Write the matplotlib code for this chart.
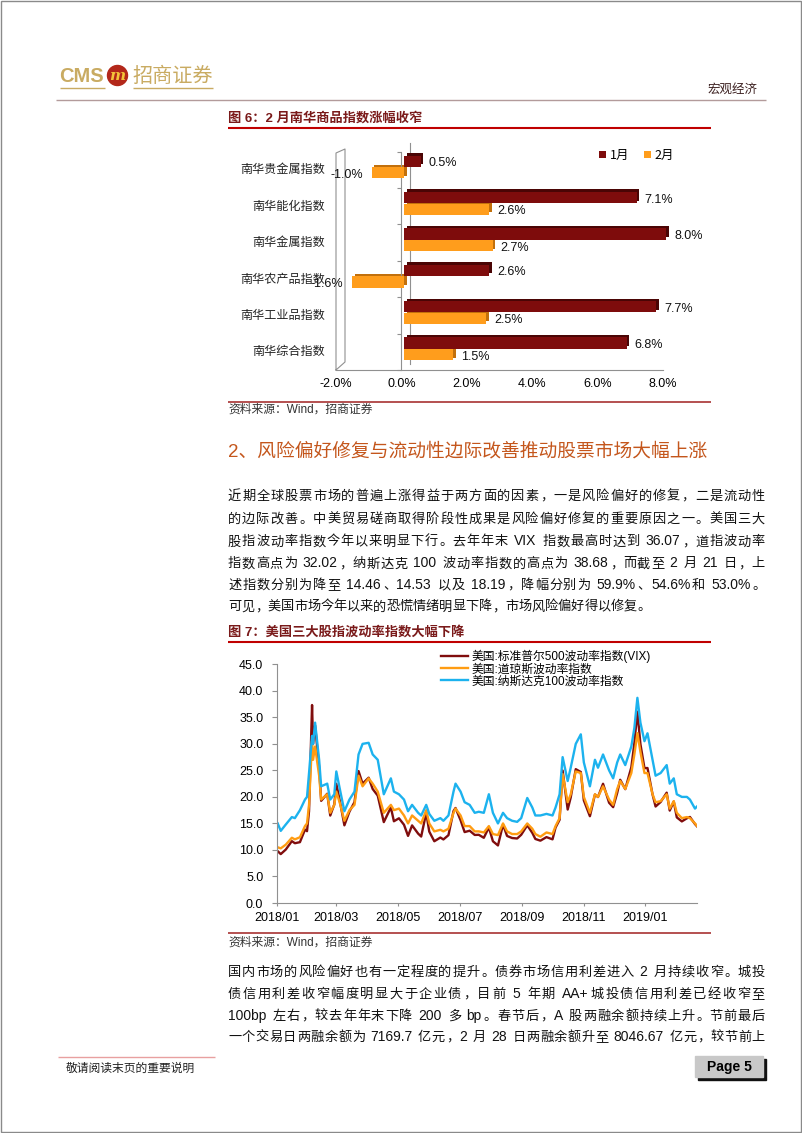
import re
import matplotlib
matplotlib.use('Agg')
import matplotlib.pyplot as plt
import matplotlib.dates as mdates
from matplotlib.patches import Rectangle, Circle
from matplotlib.transforms import ScaledTranslation
import pandas as pd

W, H = 802, 1133
CJK = 'Noto Sans CJK SC'
MIX = ['Liberation Sans', CJK]
GOLD = '#c9ab62'

# ---- 图6 data ----
categories = ['南华贵金属指数', '南华能化指数', '南华金属指数',
              '南华农产品指数', '南华工业品指数', '南华综合指数']
jan = [0.5, 7.1, 8.0, 2.6, 7.7, 6.8]
feb = [-1.0, 2.6, 2.7, -1.6, 2.5, 1.5]
bar_ticks = [-2, 0, 2, 4, 6, 8]

# ---- 图7 data ----
dates = ['2018-01-02', '2018-01-05', '2018-01-10', '2018-01-16', '2018-01-19', '2018-01-24',
         '2018-01-29', '2018-01-31', '2018-02-02', '2018-02-05', '2018-02-06', '2018-02-08',
         '2018-02-12', '2018-02-14', '2018-02-20', '2018-02-23', '2018-02-27', '2018-03-01',
         '2018-03-05', '2018-03-09', '2018-03-14', '2018-03-19', '2018-03-23', '2018-03-27',
         '2018-04-02', '2018-04-06', '2018-04-11', '2018-04-17', '2018-04-24', '2018-04-27',
         '2018-05-02', '2018-05-07', '2018-05-11', '2018-05-15', '2018-05-21', '2018-05-24',
         '2018-05-29', '2018-06-01', '2018-06-06', '2018-06-12', '2018-06-15', '2018-06-20',
         '2018-06-25', '2018-06-27', '2018-07-02', '2018-07-06', '2018-07-11', '2018-07-16',
         '2018-07-20', '2018-07-25', '2018-07-30', '2018-08-03', '2018-08-08', '2018-08-13',
         '2018-08-17', '2018-08-22', '2018-08-27', '2018-08-31', '2018-09-06', '2018-09-11',
         '2018-09-14', '2018-09-19', '2018-09-25', '2018-10-01', '2018-10-04', '2018-10-08',
         '2018-10-11', '2018-10-16', '2018-10-19', '2018-10-24', '2018-10-29', '2018-11-01',
         '2018-11-07', '2018-11-12', '2018-11-15', '2018-11-20', '2018-11-26', '2018-11-30',
         '2018-12-04', '2018-12-07', '2018-12-12', '2018-12-18', '2018-12-21', '2018-12-24',
         '2018-12-27', '2018-12-31', '2019-01-03', '2019-01-08', '2019-01-11', '2019-01-16',
         '2019-01-22', '2019-01-25', '2019-01-29', '2019-02-01', '2019-02-06', '2019-02-11',
         '2019-02-14', '2019-02-19', '2019-02-21']
vix = [9.77, 9.22, 10.08, 11.66, 11.27, 11.47,
       13.84, 13.54, 17.31, 37.32, 29.98, 33.46,
       25.61, 19.26, 20.60, 16.49, 18.59, 22.47,
       18.73, 14.64, 17.23, 19.02, 24.87, 22.50,
       23.62, 21.49, 20.24, 15.25, 18.02, 15.41,
       15.97, 14.75, 12.65, 14.63, 13.08, 12.53,
       17.02, 13.46, 11.64, 12.34, 11.98, 12.79,
       17.33, 17.91, 15.60, 13.37, 13.63, 12.83,
       12.86, 12.29, 14.26, 11.64, 10.85, 14.78,
       12.64, 12.25, 12.16, 12.86, 14.65, 13.22,
       12.07, 11.75, 12.42, 12.00, 14.22, 15.69,
       24.98, 17.62, 19.89, 25.23, 24.70, 19.34,
       16.36, 20.45, 19.98, 22.48, 18.90, 18.07,
       20.74, 23.23, 21.46, 25.58, 30.11, 36.07,
       29.96, 25.42, 25.45, 20.47, 18.19, 19.04,
       20.80, 17.42, 19.13, 16.14, 15.38, 15.97,
       16.22, 14.88, 14.46]
vxd = [10.5, 10.3, 11.0, 12.3, 12.0, 12.4,
       14.5, 15.0, 18.5, 30.5, 27.0, 29.5,
       24.0, 19.5, 20.5, 17.0, 18.5, 21.0,
       18.5, 15.5, 17.5, 18.5, 24.0, 22.0,
       23.5, 22.5, 21.0, 17.0, 18.5, 17.5,
       17.8, 16.5, 15.0, 16.5, 15.5, 15.0,
       17.5, 15.0, 13.5, 13.8, 13.5, 14.0,
       17.0, 17.8, 16.5, 14.5, 14.5, 13.5,
       13.5, 13.3, 14.5, 13.0, 12.8, 15.0,
       13.5, 13.0, 13.0, 13.5, 15.0, 14.0,
       13.0, 12.5, 13.3, 13.0, 14.5, 16.0,
       24.3, 19.0, 20.5, 24.8, 24.5, 20.0,
       17.0, 20.5, 20.0, 22.0, 19.5, 18.5,
       21.5, 23.0, 21.5, 24.5, 28.0, 32.02,
       28.5, 24.5, 24.5, 20.5, 19.0, 19.2,
       20.5, 17.8, 19.2, 17.0, 16.0, 16.2,
       16.0, 15.0, 14.53]
vxn = [15.0, 13.6, 14.8, 16.2, 16.0, 17.5,
       19.5, 20.0, 24.5, 31.5, 30.0, 34.0,
       27.0, 22.0, 22.5, 19.5, 20.5, 24.8,
       21.0, 17.3, 19.5, 21.0, 28.0, 30.0,
       30.2, 28.0, 27.0, 20.5, 23.5, 21.0,
       20.5, 19.5, 17.3, 18.5, 17.0, 16.5,
       18.5, 16.8, 15.5, 16.0, 15.5, 16.5,
       21.0, 22.5, 21.0, 19.0, 18.5, 17.0,
       17.2, 17.0, 20.5, 17.0, 15.0, 17.0,
       16.0, 15.5, 15.3, 16.0, 19.8, 18.0,
       16.5, 16.5, 16.8, 16.5, 18.0, 20.5,
       27.5, 23.0, 25.5, 30.0, 31.8, 26.5,
       22.0, 27.0, 25.5, 28.0, 25.0, 23.5,
       26.5, 28.0, 26.0, 29.5, 33.0, 38.68,
       34.0, 30.5, 32.0, 27.0, 24.0, 24.5,
       26.0, 22.5, 23.5, 20.5, 20.0, 20.0,
       19.5, 17.8, 18.19]
series_names = ['美国:标准普尔500波动率指数(VIX)', '美国:道琼斯波动率指数', '美国:纳斯达克100波动率指数']
series_colors = ['#800d0d', '#ff9c12', '#1cb2ee']

para1 = ['近期全球股票市场的普遍上涨得益于两方面的因素，一是风险偏好的修复，二是流动性',
         '的边际改善。中美贸易磋商取得阶段性成果是风险偏好修复的重要原因之一。美国三大',
         '股指波动率指数今年以来明显下行。去年年末 VIX 指数最高时达到 36.07，道指波动率',
         '指数高点为 32.02，纳斯达克 100 波动率指数的高点为 38.68，而截至 2 月 21 日，上',
         '述指数分别为降至 14.46、14.53 以及 18.19，降幅分别为 59.9%、54.6%和 53.0%。',
         '可见，美国市场今年以来的恐慌情绪明显下降，市场风险偏好得以修复。']
para2 = ['国内市场的风险偏好也有一定程度的提升。债券市场信用利差进入 2 月持续收窄。城投',
         '债信用利差收窄幅度明显大于企业债，目前 5 年期 AA+城投债信用利差已经收窄至',
         '100bp 左右，较去年年末下降 200 多 bp。春节后，A 股两融余额持续上升。节前最后',
         '一个交易日两融余额为 7169.7 亿元，2 月 28 日两融余额升至 8046.67 亿元，较节前上']

fig = plt.figure(figsize=(W / 100, H / 100), dpi=100)
page = fig.add_axes([0, 0, 1, 1])
page.set_xlim(0, W)
page.set_ylim(H, 0)
page.axis('off')


def box(l, t, r, b):
    return fig.add_axes([l / W, 1 - b / H, (r - l) / W, (b - t) / H])


def hline(x0, x1, y, color, lw=1.0):
    page.plot([x0, x1], [y, y], color=color, lw=lw, solid_capstyle='butt')


renderer = fig.canvas.get_renderer()


def justify(line, y, x0=228, x1=765, size=9.5, last=False):
    em = size * 100 / 72
    items = []
    for tok in re.findall(r'[A-Za-z0-9.%+()]+| |.', line):
        if tok == ' ':
            items.append((None, 4.0, None))
        elif ord(tok[0]) < 128:
            t = page.text(x0, y + 0.37 * em, tok, fontsize=size + 0.5, family='Liberation Sans',
                          va='baseline', ha='left', color='#111111')
            items.append((t, t.get_window_extent(renderer).width + 0.5, 'l'))
        else:
            punct = tok in '，。、：；'
            t = page.text(x0, y + 0.37 * em, tok, fontsize=size, family=CJK, va='baseline',
                          ha='left' if punct else 'center', color='#111111')
            items.append((t, em, 'p' if punct else 'c'))
    total = sum(w for _, w, _ in items)
    gap = 0 if last else (x1 - x0 - total) / (len(items) - 1)
    x = x0
    for t, w, kind in items:
        if t is not None:
            t.set_x(x + w / 2 if kind == 'c' else x + (0.05 * em if kind == 'p' else 0))
        x += w + gap


# ---- page furniture ----
page.add_patch(Rectangle((0.5, 0.5), W - 1.5, H - 1.5, fill=False, edgecolor='#8a8a8a', lw=1))
page.text(59, 76, 'CMS', fontsize=14.5, weight='bold', family='Liberation Sans', color=GOLD,
          va='center', ha='left')
hline(60, 105, 87.5, GOLD, 1)
page.add_patch(Circle((117.5, 75.5), 10, color='#b3281a'))
page.text(117.5, 75.5, 'm', fontsize=11, weight='bold', style='italic', color='#f3c53a',
          ha='center', va='center', family='DejaVu Serif')
page.text(132, 76, '招商证券', fontsize=14.5, family=CJK, color=GOLD, va='center')
hline(133, 213, 87.5, GOLD, 1)
page.text(758, 89, '宏观经济', fontsize=9, family=CJK, color='#3b1f1f', ha='right', va='center')
hline(56, 766, 100.3, '#b39b9b', 1)

page.text(228, 118, '图 6：2 月南华商品指数涨幅收窄', fontsize=9.5, weight='bold', family=MIX,
          color='#7a1a1a', va='center')
hline(228, 711, 127.5, '#c00000', 1.5)
hline(228, 711, 401.5, '#a83232', 1.2)
page.text(228, 410, '资料来源：Wind，招商证券', fontsize=8.5, family=MIX, color='#333333', va='center')

page.text(228, 452, '2、风险偏好修复与流动性边际改善推动股票市场大幅上涨', fontsize=13.5,
          family=MIX, color='#c4561c', va='center')
for i, (line, y) in enumerate(zip(para1, [495, 518, 540.5, 562.5, 584, 605.5])):
    justify(line, y, last=(i == len(para1) - 1))

page.text(228, 632.3, '图 7：美国三大股指波动率指数大幅下降', fontsize=9.5, weight='bold', family=MIX,
          color='#7a1a1a', va='center')
hline(228, 711, 642, '#c00000', 1.5)
hline(228, 711, 933.3, '#a83232', 1.2)
page.text(228, 942.7, '资料来源：Wind，招商证券', fontsize=8.5, family=MIX, color='#333333', va='center')
for line, y in zip(para2, [971, 993, 1015, 1036]):
    justify(line, y)

hline(58, 215, 1056.7, '#e8a0a0', 1)
page.text(65.5, 1068, '敬请阅读末页的重要说明', fontsize=8.5, family=CJK, color='#222222', va='center')
page.add_patch(Rectangle((697.5, 1058.5), 68, 21, color='#111111'))
page.add_patch(Rectangle((695, 1056), 68, 21, color='#c8c8c8'))
page.text(729, 1066.5, 'Page 5', fontsize=10, weight='bold', family='Liberation Sans',
          ha='center', va='center')

# 3D walls of the bar chart
wall = '#909090'
page.plot([336, 336, 345, 345, 336], [370, 153, 149, 362, 370], color=wall, lw=0.8)
page.plot([410, 410], [143, 364], color=wall, lw=0.8)

# ---- 图6 bar chart ----
ax1 = box(336, 151.7, 663, 370)
pos = list(range(len(categories)))[::-1]
front = ax1.transData + ScaledTranslation(3 / 100, 0, fig.dpi_scale_trans)
side = ax1.transData + ScaledTranslation(5.5 / 100, 2.5 / 100, fig.dpi_scale_trans)
for vals, off, col, dark, lab in [(jan, 0.24, '#7e0c0c', '#4a0505', '1月'),
                                  (feb, -0.08, '#ff9d1c', '#c2700c', '2月')]:
    ys = [p + off for p in pos]
    ax1.barh(ys, vals, height=0.31, color=dark, transform=side, zorder=2, clip_on=False)
    ax1.barh(ys, vals, height=0.31, color=col, transform=front, zorder=3, clip_on=False, label=lab)
    for y, v in zip(ys, vals):
        ax1.annotate(f'{v:.1f}%', (v, y), xytext=(8 if v > 0 else -4, -1.5),
                     textcoords='offset points', ha='left' if v > 0 else 'right', va='center',
                     fontsize=9, family='Liberation Sans', color='#111111',
                     annotation_clip=False, zorder=5)
for p, c in zip(pos, categories):
    ax1.annotate(c, (0, p), xycoords=('axes fraction', 'data'), xytext=(-8, 0),
                 textcoords='offset points', ha='right', va='center', fontsize=8.7,
                 family=CJK, color='#222222', annotation_clip=False)
ax1.set_xlim(-2, 8)
ax1.set_ylim(-0.5, 5.5)
ax1.set_xticks(bar_ticks)
ax1.set_xticklabels([f'{v:.1f}%' for v in bar_ticks], family='Liberation Sans', fontsize=9)
ax1.set_yticks([i - 0.5 for i in range(len(categories) + 1)])
ax1.set_yticklabels([])
ax1.tick_params(axis='x', length=0, pad=6)
ax1.tick_params(axis='y', direction='out', length=3, color=wall)
ax1.spines['left'].set_position(('data', 0))
for s in ['left', 'bottom']:
    ax1.spines[s].set_color(wall)
    ax1.spines[s].set_linewidth(0.8)
for s in ['top', 'right']:
    ax1.spines[s].set_visible(False)
ax1.patch.set_alpha(0)
ax1.legend(loc='upper left', bbox_to_anchor=(599 / W, 1 - 149 / H), bbox_transform=fig.transFigure,
           ncol=2, frameon=False, prop={'family': CJK, 'size': 9}, handlelength=0.55,
           handleheight=0.55, handletextpad=0.3, columnspacing=1.2, borderpad=0, borderaxespad=0)

# ---- 图7 line chart ----
ax2 = box(276.7, 664.3, 697, 903)
x = pd.to_datetime(dates)
for vals, name, col in zip([vix, vxd, vxn], series_names, series_colors):
    ax2.plot(x, vals, color=col, lw=1.7, label=name)
ax2.set_xlim(pd.Timestamp('2018-01-01'), pd.Timestamp('2019-02-21'))
ax2.set_ylim(0, 45)
yt = list(range(0, 50, 5))
ax2.set_yticks(yt)
ax2.set_yticklabels([f'{v:.1f}' for v in yt], family='Liberation Sans', fontsize=9)
ax2.xaxis.set_major_locator(mdates.MonthLocator(bymonth=[1, 3, 5, 7, 9, 11]))
ax2.xaxis.set_major_formatter(mdates.DateFormatter('%Y/%m'))
for lab in ax2.get_xticklabels():
    lab.set_family('Liberation Sans')
    lab.set_fontsize(9)
ax2.tick_params(axis='y', direction='out', length=3.6, pad=6, color=wall)
ax2.tick_params(axis='x', direction='out', length=2.5, pad=4, color=wall)
for s in ['left', 'bottom']:
    ax2.spines[s].set_color(wall)
    ax2.spines[s].set_linewidth(0.8)
for s in ['top', 'right']:
    ax2.spines[s].set_visible(False)
ax2.patch.set_alpha(0)
ax2.legend(loc='upper left', bbox_to_anchor=(441 / W, 1 - 650 / H), bbox_transform=fig.transFigure,
           frameon=False, prop={'family': MIX, 'size': 8.5}, handlelength=2.3, handletextpad=0.25,
           labelspacing=0.0, borderpad=0, borderaxespad=0)

fig.savefig('out.png', dpi=100)
